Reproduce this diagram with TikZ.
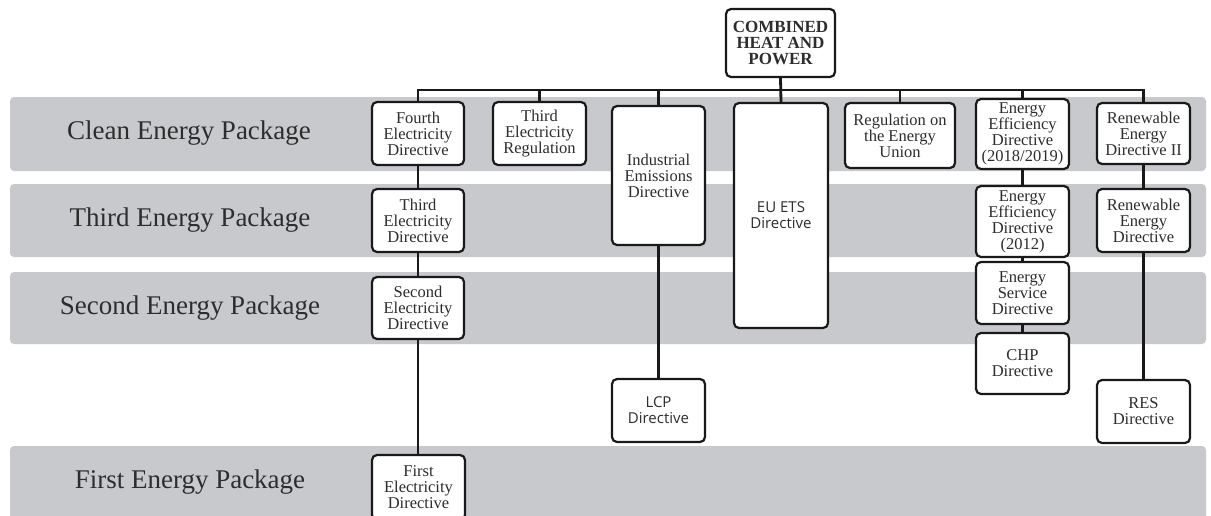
\documentclass[tikz,border=0pt]{standalone}
\usepackage{fontspec}
\setmainfont{Liberation Serif}
\newfontfamily\boxsans{Open Sans}
\definecolor{bandgray}{RGB}{199,201,204}
\definecolor{inkgray}{RGB}{45,45,45}
\begin{document}
\begin{tikzpicture}[x=1pt,y=-1pt,
  band/.style={fill=bandgray, draw=none, rounded corners=4pt},
  bandlabel/.style={font=\fontsize{27}{30}\selectfont, text=inkgray},
  docbox/.style={draw=black!90, line width=2.2pt, fill=white, rounded corners=5pt,
    align=center, inner sep=0pt, text=inkgray,
    font=\fontsize{16.5}{16}\selectfont},
  sansbox/.style={docbox, font=\boxsans\fontsize{15}{16}\selectfont},
  link/.style={draw=black!90, line width=2.8pt, line join=miter}]
\useasboundingbox (0,0) rectangle (1211,515);

% bands
\fill[band] (10,97) rectangle (1206,171);
\fill[band] (10,184) rectangle (1206,257);
\fill[band] (10,272) rectangle (1206,344);
\fill[band] (10,446) rectangle (1206,530);
\node[bandlabel] (lclean) at (189,133) {Clean Energy Package};
\node[bandlabel] (lthird) at (190,220) {Third Energy Package};
\node[bandlabel] (lsecond) at (190,308) {Second Energy Package};
\node[bandlabel] (lfirst) at (190,482) {First Energy Package};

% nodes
\node[docbox, minimum width=109, minimum height=68, font=\bfseries\fontsize{17}{16}\selectfont] (chp) at (780.5,43) {COMBINED\\HEAT AND\\POWER};
\node[docbox, minimum width=92, minimum height=63] (fourth) at (418,133.5) {Fourth\\Electricity\\Directive};
\node[docbox, minimum width=93, minimum height=63] (threg) at (539.5,133.5) {Third\\Electricity\\Regulation};
\node[docbox, minimum width=93, minimum height=139] (ied) at (658.5,175.5) {Industrial\\Emissions\\Directive};
\node[sansbox, minimum width=94, minimum height=225] (ets) at (781,215.5) {EU ETS\\Directive};
\node[docbox, minimum width=110, minimum height=65] (reu) at (900,135.5) {Regulation on\\the Energy\\Union};
\node[docbox, minimum width=93, minimum height=70] (eeda) at (1022.5,134) {Energy\\Efficiency\\Directive\\(2018/2019)};
\node[docbox, minimum width=93, minimum height=61] (redb) at (1143.5,133.5) {Renewable\\Energy\\Directive II};

\node[docbox, minimum width=92, minimum height=63] (third) at (418,220.5) {Third\\Electricity\\Directive};
\node[docbox, minimum width=93, minimum height=71] (eedb) at (1022.5,221.5) {Energy\\Efficiency\\Directive\\(2012)};
\node[docbox, minimum width=93, minimum height=63] (reda) at (1143.5,220.5) {Renewable\\Energy\\Directive};

\node[docbox, minimum width=92, minimum height=62] (second) at (418,308) {Second\\Electricity\\Directive};
\node[docbox, minimum width=93, minimum height=62] (esd) at (1022.5,293) {Energy\\Service\\Directive};
\node[docbox, minimum width=93, minimum height=61] (chpd) at (1022.5,363.5) {CHP\\Directive};
\node[sansbox, minimum width=93, minimum height=63] (lcp) at (658.5,410.5) {LCP\\Directive};
\node[docbox, minimum width=93, minimum height=63] (res) at (1143.5,411.5) {RES\\Directive};
\node[docbox, minimum width=93, minimum height=65] (first) at (418.5,487.5) {First\\Electricity\\Directive};

% connectors
\coordinate (bus) at (780.5,90);
\draw[link] (chp.south) -- (ets.north);
\draw[link] (fourth.north) -- (fourth.north |- bus) -- (redb.north |- bus) -- (redb.north);
\draw[link] (threg.north |- bus) -- (threg.north);
\draw[link] (ied.north |- bus) -- (ied.north);
\draw[link] (reu.north |- bus) -- (reu.north);
\draw[link] (eeda.north |- bus) -- (eeda.north);

\draw[link] (fourth.south) -- (third.north);
\draw[link] (third.south) -- (second.north);
\draw[link] (second.south) -- (first.north -| second.south);
\draw[link] (ied.south) -- (lcp.north);
\draw[link] (eeda.south) -- (eedb.north);
\draw[link] (eedb.south) -- (esd.north);
\draw[link] (esd.south) -- (chpd.north);
\draw[link] (redb.south) -- (reda.north);
\draw[link] (reda.south) -- (res.north);
\end{tikzpicture}
\end{document}
